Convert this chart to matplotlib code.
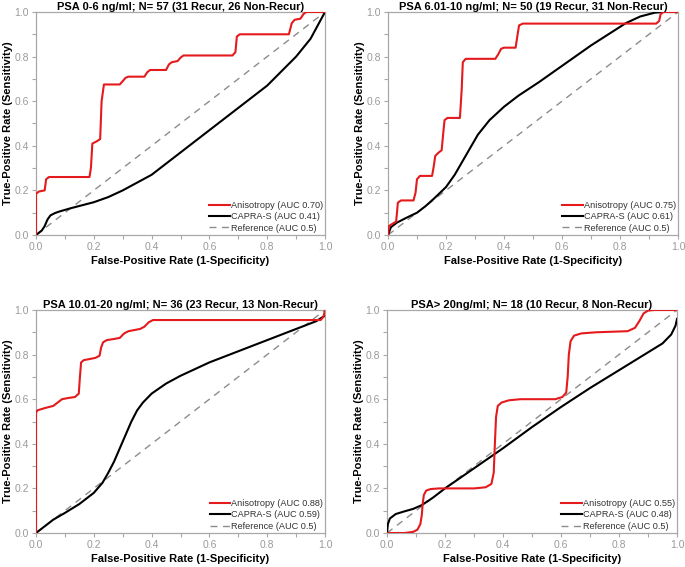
import matplotlib
matplotlib.use("Agg")
import matplotlib.pyplot as plt
from matplotlib.ticker import MultipleLocator

plt.rcParams['font.family'] = ['Liberation Sans', 'DejaVu Sans']

titles = [
    "PSA 0-6 ng/ml; N= 57 (31 Recur, 26 Non-Recur)",
    "PSA 6.01-10 ng/ml; N= 50 (19 Recur, 31 Non-Recur)",
    "PSA 10.01-20 ng/ml; N= 36 (23 Recur, 13 Non-Recur)",
    "PSA> 20ng/ml; N= 18 (10 Recur, 8 Non-Recur)",
]
auc_aniso = ["0.70", "0.75", "0.88", "0.55"]
auc_capra = ["0.41", "0.61", "0.59", "0.48"]

# Panel 1
aniso1_x = [0, 0, 0.01, 0.03, 0.035, 0.045, 0.06, 0.185, 0.19, 0.195, 0.21, 0.222, 0.227, 0.235, 0.29, 0.30, 0.31, 0.32, 0.375, 0.385, 0.395, 0.45, 0.46, 0.47, 0.49, 0.50, 0.51, 0.68, 0.69, 0.695, 0.705, 0.875, 0.885, 0.895, 0.915, 0.925, 0.935, 1.0]
aniso1_y = [0, 0.185, 0.195, 0.20, 0.25, 0.26, 0.26, 0.26, 0.30, 0.41, 0.42, 0.43, 0.60, 0.675, 0.675, 0.69, 0.705, 0.71, 0.71, 0.73, 0.74, 0.74, 0.765, 0.775, 0.78, 0.795, 0.805, 0.805, 0.82, 0.89, 0.90, 0.90, 0.95, 0.965, 0.97, 0.99, 1.0, 1.0]
capra1_x = [0, 0.02, 0.03, 0.04, 0.05, 0.065, 0.08, 0.12, 0.2, 0.25, 0.3, 0.35, 0.4, 0.45, 0.5, 0.6, 0.7, 0.8, 0.9, 0.95, 1.0]
capra1_y = [0, 0.02, 0.04, 0.07, 0.088, 0.098, 0.105, 0.12, 0.147, 0.17, 0.20, 0.235, 0.27, 0.32, 0.37, 0.47, 0.57, 0.67, 0.80, 0.88, 1.0]

# Panel 2
aniso2_x = [0, 0.003, 0.015, 0.028, 0.031, 0.034, 0.045, 0.088, 0.095, 0.100, 0.11, 0.152, 0.158, 0.163, 0.175, 0.185, 0.190, 0.195, 0.205, 0.248, 0.254, 0.258, 0.268, 0.37, 0.38, 0.39, 0.40, 0.44, 0.447, 0.452, 0.465, 0.925, 0.935, 0.94, 0.95, 1.0]
aniso2_y = [0, 0.04, 0.05, 0.06, 0.10, 0.145, 0.155, 0.155, 0.19, 0.25, 0.265, 0.265, 0.31, 0.355, 0.37, 0.38, 0.45, 0.515, 0.525, 0.525, 0.65, 0.775, 0.79, 0.79, 0.81, 0.835, 0.84, 0.84, 0.90, 0.94, 0.948, 0.948, 0.96, 0.99, 1.0, 1.0]
capra2_x = [0, 0.01, 0.03, 0.06, 0.1, 0.13, 0.16, 0.2, 0.23, 0.27, 0.31, 0.35, 0.40, 0.45, 0.52, 0.58, 0.64, 0.70, 0.76, 0.82, 0.87, 0.92, 0.95, 1.0]
capra2_y = [0, 0.035, 0.055, 0.075, 0.10, 0.13, 0.165, 0.215, 0.27, 0.36, 0.45, 0.515, 0.575, 0.625, 0.685, 0.74, 0.795, 0.85, 0.90, 0.95, 0.98, 0.997, 1.0, 1.0]

# Panel 3
aniso3_x = [0, 0, 0.005, 0.03, 0.06, 0.075, 0.09, 0.11, 0.135, 0.148, 0.152, 0.156, 0.165, 0.185, 0.205, 0.22, 0.225, 0.232, 0.245, 0.27, 0.29, 0.305, 0.32, 0.36, 0.375, 0.39, 0.405, 0.42, 0.985, 0.995, 1.0]
aniso3_y = [0, 0.54, 0.55, 0.56, 0.57, 0.585, 0.60, 0.605, 0.61, 0.625, 0.70, 0.765, 0.775, 0.78, 0.785, 0.795, 0.83, 0.855, 0.865, 0.87, 0.875, 0.895, 0.905, 0.915, 0.925, 0.945, 0.955, 0.955, 0.955, 0.97, 1.0]
capra3_x = [0, 0.03, 0.06, 0.1, 0.15, 0.2, 0.23, 0.25, 0.27, 0.29, 0.31, 0.33, 0.35, 0.37, 0.40, 0.45, 0.5, 0.6, 0.7, 0.8, 0.9, 0.97, 1.0]
capra3_y = [0, 0.03, 0.06, 0.09, 0.13, 0.18, 0.225, 0.27, 0.32, 0.38, 0.44, 0.50, 0.55, 0.585, 0.625, 0.67, 0.705, 0.765, 0.815, 0.865, 0.915, 0.95, 0.975]

# Panel 4
aniso4_x = [0, 0.06, 0.09, 0.105, 0.115, 0.12, 0.123, 0.127, 0.135, 0.15, 0.18, 0.30, 0.34, 0.36, 0.368, 0.372, 0.376, 0.382, 0.395, 0.42, 0.46, 0.58, 0.605, 0.618, 0.623, 0.627, 0.633, 0.645, 0.67, 0.72, 0.83, 0.855, 0.87, 0.885, 0.90, 0.92, 1.0]
aniso4_y = [0, 0.0, 0.005, 0.015, 0.04, 0.08, 0.13, 0.17, 0.19, 0.197, 0.20, 0.20, 0.205, 0.22, 0.27, 0.40, 0.52, 0.57, 0.585, 0.595, 0.60, 0.60, 0.61, 0.63, 0.70, 0.80, 0.86, 0.885, 0.895, 0.90, 0.905, 0.92, 0.95, 0.985, 0.997, 1.0, 1.0]
capra4_x = [0, 0.003, 0.01, 0.03, 0.06, 0.09, 0.12, 0.16, 0.2, 0.3, 0.4, 0.5, 0.6, 0.7, 0.8, 0.9, 0.95, 0.98, 0.995, 1.0]
capra4_y = [0, 0.04, 0.065, 0.085, 0.097, 0.108, 0.125, 0.16, 0.20, 0.29, 0.38, 0.475, 0.565, 0.65, 0.73, 0.81, 0.85, 0.89, 0.93, 0.96]

aniso_x = [aniso1_x, aniso2_x, aniso3_x, aniso4_x]
aniso_y = [aniso1_y, aniso2_y, aniso3_y, aniso4_y]
capra_x = [capra1_x, capra2_x, capra3_x, capra4_x]
capra_y = [capra1_y, capra2_y, capra3_y, capra4_y]
ref_xy = [0, 1]

fig = plt.figure(figsize=(6.85, 5.67), dpi=100)
W, H = 685.0, 567.0
boxes = [(36, 12, 325, 235), (388, 12, 678, 235), (36, 310, 325, 533), (387, 310, 677, 533)]

gray = '#a8a8a8'
for i, (x0, y0, x1, y1) in enumerate(boxes):
    ax = fig.add_axes([x0 / W, 1 - y1 / H, (x1 - x0) / W, (y1 - y0) / H])
    ax.plot(ref_xy, ref_xy, color='#8c8c8c', lw=1.0, ls=(0, (5, 4)), label='Reference (AUC 0.5)', zorder=2)
    ax.plot(capra_x[i], capra_y[i], color='black', lw=1.5, solid_joinstyle='round', label='CAPRA-S (AUC %s)' % auc_capra[i], zorder=3)
    ax.plot(aniso_x[i], aniso_y[i], color='#e41a1c', lw=1.5, solid_joinstyle='round', label='Anisotropy (AUC %s)' % auc_aniso[i], zorder=4)
    ax.set_xlim(0, 1)
    ax.set_ylim(0, 1)
    ax.xaxis.set_major_locator(MultipleLocator(0.2))
    ax.yaxis.set_major_locator(MultipleLocator(0.2))
    ax.xaxis.set_minor_locator(MultipleLocator(0.1))
    ax.yaxis.set_minor_locator(MultipleLocator(0.1))
    ax.xaxis.set_major_formatter(plt.FormatStrFormatter('%.1f'))
    ax.yaxis.set_major_formatter(plt.FormatStrFormatter('%.1f'))
    for s in ax.spines.values():
        s.set_color(gray)
        s.set_linewidth(0.9)
    ax.tick_params(which='both', direction='out', color=gray, labelcolor='#9a9a9a', labelsize=7.5, length=3, width=0.8, pad=2)
    ax.set_title(titles[i], fontsize=8.0, fontweight='bold', pad=1.5)
    ax.set_xlabel('False-Positive Rate (1-Specificity)', fontsize=8.0, fontweight='bold', labelpad=3)
    ax.set_ylabel('True-Positive Rate (Sensitivity)', fontsize=8.0, fontweight='bold', labelpad=1)
    h, l = ax.get_legend_handles_labels()
    leg = ax.legend(h[::-1], l[::-1], loc='lower right', frameon=False, fontsize=6.6,
                    handlelength=2.2, handletextpad=0.1, labelspacing=0.25,
                    borderaxespad=0.15, borderpad=0.1)
    for t in leg.get_texts():
        t.set_color('#333333')

fig.savefig('out.png', dpi=100)
